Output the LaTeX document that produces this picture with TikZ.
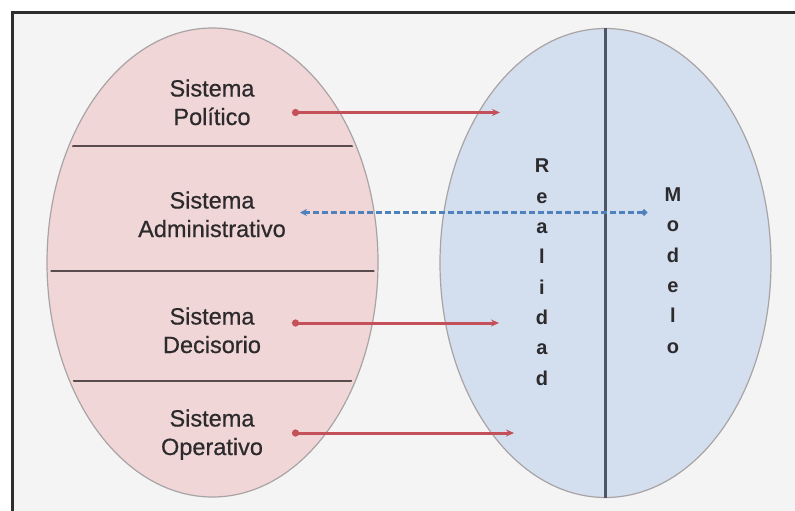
\documentclass[tikz,border=0pt]{standalone}
\usepackage{fontspec}
\setmainfont{Liberation Sans}
\newfontfamily\sysfont[FakeBold=0.6]{Liberation Sans}
\usetikzlibrary{arrows.meta,shapes.geometric}
\definecolor{bgc}{HTML}{F4F4F4}
\definecolor{framec}{HTML}{2E2E2E}
\definecolor{pinkc}{HTML}{F1D6D7}
\definecolor{bluec}{HTML}{D3DFEE}
\definecolor{ellc}{HTML}{A9A3A5}
\definecolor{divc}{HTML}{5A4C4E}
\definecolor{vlinec}{HTML}{4E5666}
\definecolor{txtc}{HTML}{2C2A2C}
\definecolor{redc}{HTML}{C4505A}
\definecolor{bluel}{HTML}{4F81BD}
\tikzset{
  bigell/.style={ellipse, draw=ellc, line width=1.2pt, minimum width=331pt, minimum height=469pt, inner sep=0pt},
  sys/.style={align=center, text=txtc, inner sep=0pt, font=\sysfont\fontsize{23.5}{28.5}\selectfont},
  vert/.style={align=center, text=txtc, inner sep=0pt, font=\bfseries\fontsize{20}{30.3}\selectfont},
  divline/.style={draw=divc, line width=2.4pt},
  redarrow/.style={draw=redc, line width=3pt, {Circle[length=7pt]}-{Stealth[length=8pt,width=7pt]}},
  bluearrow/.style={draw=bluel, line width=2.4pt, dash pattern=on 6pt off 3pt, {Stealth[length=7pt,width=7pt]}-{Circle[length=6pt]}}
}
\begin{document}
\begin{tikzpicture}[x=1pt,y=-1pt]
\useasboundingbox (0,0) rectangle (795,511);
\fill[white] (0,0) rectangle (795,511);
\fill[bgc] (12,13) rectangle (795,511);
\draw[framec, line width=3pt] (12,511) -- (12,13) -- (795,13);

% ellipses
\node[bigell, fill=pinkc] (left) at (212.5,262.5) {};
\node[bigell, fill=bluec] (right) at (605.5,263) {};

% dividers in left ellipse
\begin{scope}
\clip (212.5,262.5) ellipse [x radius=162, y radius=232];
\draw[divline] (40,146) -- (390,146);
\draw[divline] (40,271) -- (390,271);
\draw[divline] (40,381) -- (390,381);
\end{scope}

% vertical line in right ellipse
\draw[draw=vlinec, line width=2.2pt] (right.north) -- (right.south);

% texts (base = baseline of last line)
\node[sys, anchor=base] (pol) at (212,125) {Sistema\\Político};
\node[sys, anchor=base] (adm) at (212,237) {Sistema\\Administrativo};
\node[sys, anchor=base] (dec) at (212,353) {Sistema\\Decisorio};
\node[sys, anchor=base] (ope) at (212,455) {Sistema\\Operativo};

\node[vert, anchor=base] (realidad) at (542,385) {R\\e\\a\\l\\i\\d\\a\\d};
\node[vert, anchor=base] (modelo) at (673,353) {M\\o\\d\\e\\l\\o};

% connectors
\coordinate (p1s) at (292,112.5);
\coordinate (p1e) at (500,112.5);
\coordinate (p3s) at (292,323);
\coordinate (p3e) at (499,323);
\coordinate (p4s) at (292,433);
\coordinate (p4e) at (514,433);
\coordinate (p2s) at (300,212.5);
\coordinate (p2e) at (647,212.5);
\draw[redarrow] (p1s) -- (p1e);
\draw[redarrow] (p3s) -- (p3e);
\draw[redarrow] (p4s) -- (p4e);
\draw[bluearrow] (p2s) -- (p2e);
\end{tikzpicture}
\end{document}
